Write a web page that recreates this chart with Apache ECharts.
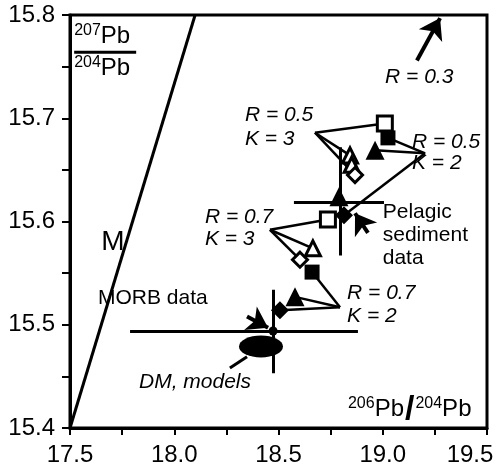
<!DOCTYPE html>
<html>
<head>
<meta charset="utf-8">
<script src="https://cdn.jsdelivr.net/npm/echarts@6/dist/echarts.min.js"></script>
<style>html,body{margin:0;padding:0;background:#fff}#c{width:499px;height:468px}</style>
</head>
<body>
<div id="c"></div>
<script>
// ---- data (206Pb/204Pb, 207Pb/204Pb) ----
const xTicks = [17.5, 18.0, 18.5, 19.0, 19.5];
const yTicks = [15.4, 15.5, 15.6, 15.7, 15.8];
const mLine = [[17.5, 15.4], [18.10, 15.8]];
const openSquares = [[19.01, 15.695], [18.737, 15.602]];
const filledSquares = [[19.025, 15.681], [18.661, 15.551]];
const openTriangles = [[18.843, 15.664], [18.851, 15.655], [18.665, 15.574]];
const filledTriangles = [[18.963, 15.669], [18.790, 15.624], [18.579, 15.527]];
const openDiamonds = [[18.867, 15.645], [18.603, 15.563]];
const filledDiamonds = [[18.814, 15.606], [18.507, 15.514]];
const morbPoint = [[18.474, 15.494]];
const dmModel = [[18.416, 15.479]];
// model apex points (R, K)
const apexR05K3 = [18.675, 15.686];
const apexR05K2 = [19.203, 15.666];
const apexR07K3 = [18.459, 15.592];
const apexR07K2 = [18.795, 15.517];
const mixSegments = [
  [apexR05K3, openSquares[0]], [apexR05K3, openTriangles[0]], [apexR05K3, openDiamonds[0]],
  [filledSquares[0], apexR05K2], [filledTriangles[0], apexR05K2], [apexR05K2, filledDiamonds[0]],
  [apexR07K3, openSquares[1]], [apexR07K3, openTriangles[2]], [apexR07K3, openDiamonds[1]],
  [filledSquares[1], apexR07K2], [apexR07K2, filledTriangles[2]], [apexR07K2, filledDiamonds[1]]
];
// error crosses: [x, y, xLow, xHigh, yLow, yHigh]
const pelagicCross = [18.795, 15.619, 18.574, 19.006, 15.567, 15.672];
const morbCross = [18.474, 15.494, 17.788, 18.881, 15.453, 15.534];
// arrows [from, to]
const arrows = [
  [[19.164, 15.756], [19.275, 15.797]],
  [[18.929, 15.589], [18.867, 15.608]],
  [[18.349, 15.508], [18.450, 15.497]]
];
const dmPointer = [[18.267, 15.458], [18.349, 15.469]];

// annotation anchors (data coords) and texts
const annotations = [
  {at: [18.339, 15.691], text: 'R = 0.5\nK = 3', italic: true, lh: 24},
  {at: [19.140, 15.667], text: 'R = 0.5\nK = 2', italic: true, lh: 21},
  {at: [18.147, 15.594], text: 'R = 0.7\nK = 3', italic: true, lh: 22},
  {at: [18.829, 15.519], text: 'R = 0.7\nK = 2', italic: true, lh: 23},
  {at: [19.011, 15.740], text: 'R = 0.3', italic: true, lh: 23},
  {at: [19.000, 15.587], text: 'Pelagic\nsediment\ndata', italic: false, lh: 23},
  {at: [17.634, 15.526], text: 'MORB data', italic: false, lh: 23},
  {at: [17.831, 15.444], text: 'DM, models', italic: true, lh: 23}
];
const mLabel = {at: [17.706, 15.580], text: 'M'};
const xTitle = {at: [18.833, 15.418]};
const yTitle = {at: [17.52, 15.764]};

const FONT = 'Liberation Sans, Arial, sans-serif';
const BLACK = '#000';

function crossSegs(c) {
  return [[[c[2], c[1]], [c[3], c[1]]], [[c[0], c[4]], [c[0], c[5]]]];
}

const textSeries = annotations.map(a => ({
  type: 'scatter', symbolSize: 0, z: 10, silent: true,
  itemStyle: {opacity: 1},
  data: [a.at],
  label: {show: true, position: 'right', distance: 0, formatter: a.text,
    color: BLACK, fontFamily: FONT, fontSize: 21, lineHeight: a.lh,
    fontStyle: a.italic ? 'italic' : 'normal', align: 'left', verticalAlign: 'middle'}
}));

const markerStyle = (filled) => ({color: filled ? BLACK : '#fff', borderColor: BLACK, borderWidth: filled ? 0 : 3, opacity: 1});

const option = {
  animation: false,
  backgroundColor: '#fff',
  grid: {left: 70, right: 12, top: 15, bottom: 40, show: true, borderWidth: 3, borderColor: BLACK,
    outerBoundsMode: 'none', containLabel: false},
  xAxis: {
    type: 'value', min: 17.5, max: 19.5, interval: 0.5,
    axisLine: {show: true, lineStyle: {color: BLACK, width: 3}},
    axisTick: {show: true, length: 7, lineStyle: {color: BLACK, width: 2}},
    minorTick: {show: true, splitNumber: 2, length: 7, lineStyle: {color: BLACK, width: 2}},
    splitLine: {show: false},
    axisLabel: {color: BLACK, fontSize: 24, fontFamily: FONT, margin: 15, hideOverlap: false,
      formatter: v => {
        const i = xTicks.findIndex(k => Math.abs(k - v) < 1e-6);
        if (i < 0) return '';
        return i === xTicks.length - 1 ? '{r|' + xTicks[i].toFixed(1) + '}' : xTicks[i].toFixed(1);
      },
      rich: {r: {fontSize: 24, fontFamily: FONT, color: BLACK, padding: [0, 34, 0, 0]}}}
  },
  yAxis: {
    type: 'value', min: 15.4, max: 15.8, interval: 0.1,
    axisLine: {show: true, lineStyle: {color: BLACK, width: 3}},
    axisTick: {show: true, length: 8, lineStyle: {color: BLACK, width: 2}},
    minorTick: {show: true, splitNumber: 2, length: 8, lineStyle: {color: BLACK, width: 2}},
    splitLine: {show: false},
    axisLabel: {color: BLACK, fontSize: 24, fontFamily: FONT, margin: 15, hideOverlap: false,
      formatter: v => { const t = yTicks.find(k => Math.abs(k - v) < 1e-6); return t === undefined ? '' : t.toFixed(1); }}
  },
  series: [
    {type: 'line', data: mLine, symbol: 'none', lineStyle: {color: BLACK, width: 3}, z: 2, silent: true},
    {type: 'lines', coordinateSystem: 'cartesian2d', z: 2, silent: true,
      data: mixSegments.map(s => ({coords: s})), lineStyle: {color: BLACK, width: 2.5, opacity: 1}},
    {type: 'lines', coordinateSystem: 'cartesian2d', z: 2, silent: true,
      data: crossSegs(pelagicCross).concat(crossSegs(morbCross)).map(s => ({coords: s})),
      lineStyle: {color: BLACK, width: 3, opacity: 1}},
    {type: 'lines', coordinateSystem: 'cartesian2d', z: 3, silent: true,
      data: arrows.map(s => ({coords: s})), symbol: ['none', 'arrow'], symbolSize: [17, 20],
      lineStyle: {color: BLACK, width: 4, opacity: 1}},
    {type: 'lines', coordinateSystem: 'cartesian2d', z: 3, silent: true,
      data: [{coords: dmPointer}], lineStyle: {color: BLACK, width: 3, opacity: 1}},
    {type: 'scatter', data: dmModel, symbol: 'circle', symbolSize: [44, 22], itemStyle: {color: BLACK, opacity: 1}, z: 4},
    {type: 'scatter', data: morbPoint, symbol: 'circle', symbolSize: 9, itemStyle: {color: BLACK, opacity: 1}, z: 4},
    {type: 'scatter', data: filledSquares, symbol: 'rect', symbolSize: 15, itemStyle: markerStyle(true), z: 5},
    {type: 'scatter', data: openSquares, symbol: 'rect', symbolSize: 15, itemStyle: markerStyle(false), z: 6},
    {type: 'scatter', data: filledTriangles, symbol: 'triangle', symbolSize: 19, itemStyle: markerStyle(true), z: 5},
    {type: 'scatter', data: openTriangles, symbol: 'triangle', symbolSize: 15, itemStyle: markerStyle(false), z: 5},
    {type: 'scatter', data: filledDiamonds, symbol: 'diamond', symbolSize: 18, itemStyle: markerStyle(true), z: 5},
    {type: 'scatter', data: openDiamonds, symbol: 'diamond', symbolSize: 15, itemStyle: markerStyle(false), z: 5},
    {type: 'scatter', symbolSize: 0, silent: true, z: 10, data: [mLabel.at], itemStyle: {opacity: 1},
      label: {show: true, position: 'inside', formatter: mLabel.text, color: BLACK, fontFamily: FONT, fontSize: 28}},
    {type: 'scatter', symbolSize: 0, silent: true, z: 10, data: [xTitle.at], itemStyle: {opacity: 1},
      label: {show: true, position: 'right', distance: 0, color: BLACK, fontFamily: FONT,
        formatter: '{s|206}{p|Pb}{sl|/}{s|204}{p|Pb}',
        rich: {
          s: {fontSize: 16, fontFamily: FONT, color: BLACK, padding: [0, 0, 12, 0]},
          p: {fontSize: 24, fontFamily: FONT, color: BLACK},
          sl: {fontSize: 34, fontWeight: 'bold', fontFamily: FONT, color: BLACK, padding: [0, 1, 0, 1]}
        }}},
    {type: 'scatter', symbolSize: 0, silent: true, z: 10, data: [yTitle.at], itemStyle: {opacity: 1},
      label: {show: true, position: 'right', distance: 0, color: BLACK, fontFamily: FONT,
        formatter: '{s|207}{p|Pb}\n{bar| }\n{s|204}{p|Pb}',
        rich: {
          s: {fontSize: 16, fontFamily: FONT, color: BLACK, padding: [0, 0, 11, 0], lineHeight: 24},
          p: {fontSize: 24, fontFamily: FONT, color: BLACK, lineHeight: 24},
          bar: {width: 62, height: 3, lineHeight: 8, backgroundColor: BLACK, fontSize: 2}
        }}}
  ].concat(textSeries)
};

const chart = echarts.init(document.getElementById('c'), null, {renderer: 'canvas'});
chart.setOption(option);
</script>
</body>
</html>
